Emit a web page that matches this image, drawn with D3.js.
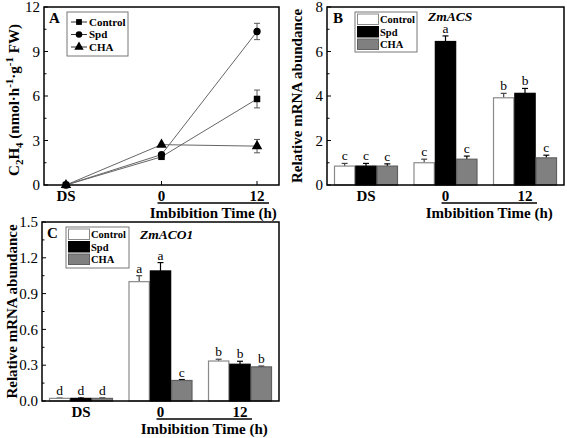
<!DOCTYPE html>
<html><head><meta charset="utf-8">
<script src="https://cdn.jsdelivr.net/npm/d3@7"></script>
<style>body{margin:0;background:#fff}svg{display:block}text{font-family:"Liberation Serif","Times New Roman",serif;fill:#000}</style>
</head><body><svg id="c" width="567" height="438"></svg>
<script>
const groups = ["DS","0","12"];
const series = ["Control","Spd","CHA"];
// Panel A (C2H4)
const aControl = [0, 1.9, 5.8];
const aSpd     = [0, 2.05, 10.35];
const aCHA     = [0, 2.72, 2.62];
const aControlErr = [0, 0.12, 0.6];
const aSpdErr     = [0, 0.1, 0.55];
const aCHAErr     = [0, 0.1, 0.45];
// Panel B (ZmACS)
const bControl = [0.85, 1.0, 3.92];
const bSpd     = [0.85, 6.45, 4.12];
const bCHA     = [0.85, 1.16, 1.22];
const bControlErr = [0.12, 0.16, 0.2];
const bSpdErr     = [0.12, 0.25, 0.22];
const bCHAErr     = [0.1, 0.14, 0.12];
const bLetters = [["c","c","c"],["c","a","c"],["b","b","c"]];
// Panel C (ZmACO1)
const cControl = [0.022, 1.0, 0.335];
const cSpd     = [0.022, 1.09, 0.308];
const cCHA     = [0.022, 0.172, 0.286];
const cControlErr = [0.003, 0.05, 0.015];
const cSpdErr     = [0.003, 0.07, 0.025];
const cCHAErr     = [0.003, 0.008, 0.006];
const cLetters = [["d","d","d"],["a","a","c"],["b","b","b"]];
const aTicks = [0,3,6,9,12];
const bTicks = [0,2,4,6,8];
const cTicks = [0,0.3,0.6,0.9,1.2,1.5];

const svg = d3.select("#c");
const fills = {Control:"#ffffff", Spd:"#000000", CHA:"#808080"};
const strokes = {Control:"#8a8a8a", Spd:"#000000", CHA:"#606060"};

function frame(g, x0,x1,y0,y1, y, ticks, fmt, xcenters){
  const minors=[];
  for(let i=0;i<ticks.length-1;i++) minors.push((ticks[i]+ticks[i+1])/2);
  ticks.forEach(t=>{
    g.append("line").attr("x1",x0).attr("x2",x0+4).attr("y1",y(t)).attr("y2",y(t)).attr("stroke","#000").attr("stroke-width",1);
    g.append("text").attr("x",x0-4).attr("y",y(t)).attr("dy","0.35em").attr("text-anchor","end").attr("font-size",15).text(fmt(t));
  });
  minors.forEach(t=>{
    g.append("line").attr("x1",x0).attr("x2",x0+2.5).attr("y1",y(t)).attr("y2",y(t)).attr("stroke","#000").attr("stroke-width",1);
  });
  xcenters.forEach((cx,i)=>{
    g.append("line").attr("x1",cx).attr("x2",cx).attr("y1",y1).attr("y2",y1-4).attr("stroke","#000").attr("stroke-width",1);
    g.append("text").attr("x",cx).attr("y",y1+16).attr("text-anchor","middle").attr("font-size",15).attr("font-weight","bold").text(groups[i]);
  });
  g.append("rect").attr("x",x0).attr("y",y0).attr("width",x1-x0).attr("height",y1-y0).attr("fill","none").attr("stroke","#000").attr("stroke-width",1.5);
  g.append("line").attr("x1",xcenters[1]-4).attr("x2",xcenters[2]+12).attr("y1",y1+18).attr("y2",y1+18).attr("stroke","#000").attr("stroke-width",1.3);
  g.append("text").attr("x",(xcenters[1]+xcenters[2])/2+4).attr("y",y1+33).attr("text-anchor","middle").attr("font-size",15).attr("font-weight","bold").text("Imbibition Time (h)");
}

// ---------- Panel A ----------
(function(){
  const x0=44,x1=279,y0=7,y1=185;
  const g = svg.append("g");
  const x = d3.scalePoint().domain(groups).range([x0,x1]).padding(0.23);
  const y = d3.scaleLinear().domain([0,12]).range([y1,y0]);
  const data = [["Control",aControl,aControlErr],["Spd",aSpd,aSpdErr],["CHA",aCHA,aCHAErr]];
  const line = d3.line().x((d,i)=>x(groups[i])).y(d=>y(d));
  data.forEach(([name,vals,errs])=>{
    g.append("path").attr("d",line(vals)).attr("fill","none").attr("stroke","#666").attr("stroke-width",1);
    vals.forEach((v,i)=>{
      if(errs[i]>0.2){
        const cx=x(groups[i]);
        g.append("line").attr("x1",cx).attr("x2",cx).attr("y1",y(v-errs[i])).attr("y2",y(v+errs[i])).attr("stroke","#555").attr("stroke-width",1);
        [v-errs[i],v+errs[i]].forEach(e=>g.append("line").attr("x1",cx-3).attr("x2",cx+3).attr("y1",y(e)).attr("y2",y(e)).attr("stroke","#555").attr("stroke-width",1));
      }
    });
  });
  const sym = {Control:d3.symbolSquare, Spd:d3.symbolCircle, CHA:d3.symbolTriangle};
  const sz = {Control:42, Spd:42, CHA:48};
  data.forEach(([name,vals])=>{
    vals.forEach((v,i)=>{
      g.append("path").attr("d",d3.symbol(sym[name],sz[name])()).attr("transform",`translate(${x(groups[i])},${y(v)})`).attr("fill","#000");
    });
  });
  frame(g,x0,x1,y0,y1,y,aTicks,d3.format("d"),groups.map(d=>x(d)));
  g.append("text").attr("x",49).attr("y",23).attr("font-size",15).attr("font-weight","bold").text("A");
  g.append("rect").attr("x",67).attr("y",12).attr("width",61).attr("height",44).attr("fill","#fff").attr("stroke","#777").attr("stroke-width",1);
  series.forEach((s,i)=>{
    const ly=22+i*12.5;
    g.append("line").attr("x1",71).attr("x2",87).attr("y1",ly).attr("y2",ly).attr("stroke","#333").attr("stroke-width",1);
    g.append("path").attr("d",d3.symbol(sym[s],sz[s]*0.8)()).attr("transform",`translate(79,${ly})`).attr("fill","#000");
    g.append("text").attr("x",89).attr("y",ly).attr("dy","0.35em").attr("font-size",11).attr("font-weight","bold").text(s);
  });
  const t = g.append("text").attr("transform","translate(19,100) rotate(-90)").attr("text-anchor","middle").attr("font-size",15).attr("font-weight","bold");
  t.append("tspan").text("C");
  t.append("tspan").attr("font-size",11).attr("dy",4).text("2");
  t.append("tspan").attr("dy",-4).text("H");
  t.append("tspan").attr("font-size",11).attr("dy",4).text("4");
  t.append("tspan").attr("dy",-4).text(" (nmol·h");
  t.append("tspan").attr("font-size",11).attr("dy",-6).text("-1");
  t.append("tspan").attr("dy",6).text("·g");
  t.append("tspan").attr("font-size",11).attr("dy",-6).text("-1");
  t.append("tspan").attr("dy",6).text(" FW)");
})();

function barPanel(x0,x1,y0,y1,ymax,ticks,fmt,vals,errs,letters,label,gene,geneX,legendBox,ylabX){
  const g = svg.append("g");
  const x = d3.scaleBand().domain(groups).range([x0,x1]).paddingInner(0.195).paddingOuter(0.088);
  const xs = d3.scaleBand().domain(series).range([0,x.bandwidth()]);
  const y = d3.scaleLinear().domain([0,ymax]).range([y1,y0]);
  series.forEach((s,si)=>{
    groups.forEach((gr,gi)=>{
      const v=vals[si][gi], e=errs[si][gi];
      const bx=x(gr)+xs(s), bw=xs.bandwidth();
      const cx=bx+bw/2;
      const ec = si===0?"#444":"#000";
      g.append("line").attr("x1",cx).attr("x2",cx).attr("y1",y(v)).attr("y2",y(v+e)).attr("stroke",ec).attr("stroke-width",1.2);
      g.append("line").attr("x1",cx-3).attr("x2",cx+3).attr("y1",y(v+e)).attr("y2",y(v+e)).attr("stroke",ec).attr("stroke-width",1.2);
      g.append("rect").attr("x",bx+0.5).attr("y",y(v)).attr("width",bw-1).attr("height",y1-y(v)).attr("fill",fills[s]).attr("stroke",strokes[s]).attr("stroke-width",1.2);
      g.append("text").attr("x",cx).attr("y",y(v+e)-3).attr("text-anchor","middle").attr("font-size",13.5).text(letters[gi][si]);
    });
  });
  frame(g,x0,x1,y0,y1,y,ticks,fmt,groups.map(d=>x(d)+x.bandwidth()/2));
  g.append("text").attr("x",label[1]).attr("y",label[2]).attr("font-size",15).attr("font-weight","bold").text(label[0]);
  g.append("text").attr("x",geneX[0]).attr("y",geneX[1]).attr("font-size",13.5).attr("font-weight","bold").attr("font-style","italic").text(gene);
  const [lx,ly,lw,lh]=legendBox;
  g.append("rect").attr("x",lx).attr("y",ly).attr("width",lw).attr("height",lh).attr("fill","#fff").attr("stroke","#777").attr("stroke-width",1);
  series.forEach((s,i)=>{
    const sy=ly+2+i*12.5;
    g.append("rect").attr("x",lx+2.5).attr("y",sy).attr("width",21).attr("height",10.5).attr("fill",fills[s]).attr("stroke",strokes[s]).attr("stroke-width",1);
    g.append("text").attr("x",lx+25).attr("y",sy+5.5).attr("dy","0.35em").attr("font-size",10.5).attr("font-weight","bold").text(s);
  });
  g.append("text").attr("transform",`translate(${ylabX},${(y0+y1)/2}) rotate(-90)`).attr("text-anchor","middle").attr("font-size",15).attr("font-weight","bold").text("Relative mRNA abundance");
}

barPanel(327,564,7,185,8,bTicks,d3.format("d"),[bControl,bSpd,bCHA],[bControlErr,bSpdErr,bCHAErr],bLetters,["B",333,23],"ZmACS",[428,21],[355,12,62,40],302);
barPanel(42,279,222,401,1.5,cTicks,d3.format(".1f"),[cControl,cSpd,cCHA],[cControlErr,cSpdErr,cCHAErr],cLetters,["C",47,238],"ZmACO1",[140,239],[66,227,63,41],17);
</script></body></html>
